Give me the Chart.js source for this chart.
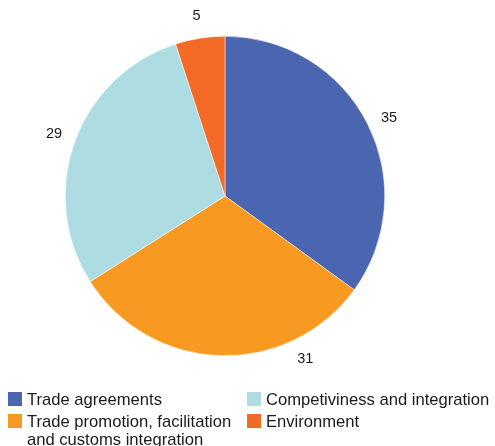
<!DOCTYPE html>
<html><head><meta charset="utf-8">
<script src="https://cdn.jsdelivr.net/npm/chart.js@4/dist/chart.umd.min.js"></script>
<style>
html,body{margin:0;padding:0;background:#fff;}
#wrap{position:relative;width:495px;height:446px;overflow:hidden;font-family:"Liberation Sans",Arial,sans-serif;}
#c{position:absolute;left:0;top:0;}
#legend{position:absolute;left:8px;top:391px;width:487px;display:grid;grid-template-columns:239px 248px;row-gap:4px;color:#1a1a1a;font-size:16.6px;line-height:18px;}
.item{display:flex;align-items:flex-start;}
.box{width:14px;height:14px;flex:0 0 14px;margin-right:5px;margin-top:1px;}
</style></head>
<body><div id="wrap"><canvas id="c" width="450" height="392"></canvas><div id="legend"></div></div>
<script>
const categories = ["Trade agreements", "Trade promotion, facilitation and customs integration", "Competiviness and integration", "Environment"];
const values = [35, 31, 29, 5];
const colors = ["#4b66b0", "#f89a21", "#addde3", "#f26a26"];
const legendOrder = [0, 2, 1, 3];
const legendText = ["Trade agreements", "Trade promotion, facilitation<br>and customs integration", "Competiviness and integration", "Environment"];

const lg = document.getElementById('legend');
legendOrder.forEach(i => {
  const d = document.createElement('div'); d.className = 'item';
  d.innerHTML = '<span class="box" style="background:' + colors[i] + '"></span><span>' + legendText[i] + '</span>';
  lg.appendChild(d);
});

const labelPlugin = {
  id: 'outLabels',
  afterDatasetsDraw(chart, args, opts) {
    const ctx = chart.ctx;
    const meta = chart.getDatasetMeta(0);
    ctx.save();
    ctx.font = '14.5px "Liberation Sans", Arial, sans-serif';
    ctx.fillStyle = '#1a1a1a';
    ctx.textAlign = 'center';
    ctx.textBaseline = 'middle';
    meta.data.forEach((arc, i) => {
      const p = arc.getProps(['x','y','startAngle','endAngle','outerRadius'], true);
      let a = (p.startAngle + p.endAngle) / 2 + (opts.shift[i] || 0) * Math.PI / 180;
      const r = p.outerRadius + opts.gap;
      ctx.fillText(String(values[i]), p.x + r * Math.cos(a), p.y + r * Math.sin(a));
    });
    ctx.restore();
  }
};

new Chart(document.getElementById('c'), {
  type: 'pie',
  data: { labels: categories, datasets: [{ data: values, backgroundColor: colors, borderColor: '#ffffff', borderWidth: 0.5 }] },
  options: {
    responsive: false, animation: false,
    layout: { padding: 36 },
    plugins: { legend: { display: false }, tooltip: { enabled: false },
      outLabels: { gap: 22, shift: [1.5, -28, 0, 0] } }
  },
  plugins: [labelPlugin]
});
</script></body></html>
